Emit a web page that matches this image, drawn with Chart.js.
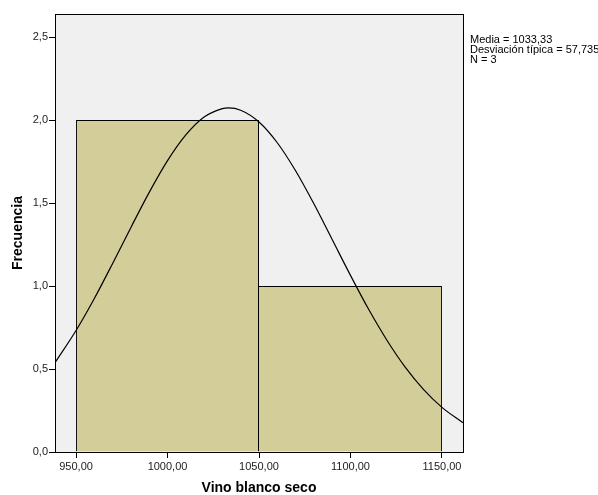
<!DOCTYPE html>
<html>
<head>
<meta charset="utf-8">
<script src="https://cdn.jsdelivr.net/npm/chart.js@4/dist/chart.umd.min.js"></script>
<style>
  html, body { margin: 0; padding: 0; background: #ffffff; }
  #wrap { width: 598px; height: 495px; position: relative; }
</style>
</head>
<body>
<div id="wrap"><canvas id="c" width="598" height="495"></canvas></div>
<script>
// Histogram bins (centre of each bin) and their counts
const binCenters = [1000, 1100];
const binCounts = [2, 1];

// Fitted normal curve, sampled along the axis
const curveX = [938.5, 950, 960, 970, 980, 990, 1000, 1010, 1020, 1030, 1033.33, 1040, 1050, 1060, 1070, 1080, 1090, 1100, 1110, 1120, 1130, 1140, 1150, 1161.5];
const curveY = [0.538, 0.732, 0.925, 1.136, 1.353, 1.564, 1.755, 1.910, 2.018, 2.069, 2.073, 2.059, 1.988, 1.863, 1.694, 1.495, 1.280, 1.064, 0.858, 0.672, 0.510, 0.376, 0.269, 0.176];

// Axis ticks
const xTicks = [950, 1000, 1050, 1100, 1150];
const yTicks = [0, 0.5, 1.0, 1.5, 2.0, 2.5];

// Summary statistics shown beside the plot
const statsLines = ['Media = 1033,33', 'Desviación típica = 57,735', 'N = 3'];

const FONT = '"Liberation Sans", Arial, sans-serif';

const frame = {
  id: 'frame',
  beforeDraw(chart) {
    const { ctx, chartArea: a } = chart;
    ctx.save();
    ctx.fillStyle = '#f0f0f0';
    ctx.fillRect(a.left, a.top, a.right - a.left, a.bottom - a.top);
    ctx.restore();
  },
  afterDraw(chart) {
    const { ctx, chartArea: a } = chart;
    ctx.save();
    ctx.strokeStyle = '#000';
    ctx.lineWidth = 1;
    ctx.strokeRect(Math.round(a.left) + 0.5, Math.round(a.top) + 0.5,
                   Math.round(a.right - a.left), Math.round(a.bottom - a.top));
    ctx.fillStyle = '#000';
    ctx.font = '11px ' + FONT;
    ctx.textBaseline = 'top';
    ctx.textAlign = 'left';
    statsLines.forEach((t, i) => ctx.fillText(t, a.right + 7, 34 + i * 10));
    ctx.restore();
  }
};

const fmt = v => v.toFixed(2).replace('.', ',');

new Chart(document.getElementById('c'), {
  type: 'bar',
  data: {
    datasets: [
      {
        type: 'line',
        data: curveX.map((x, i) => ({ x: x, y: curveY[i] })),
        borderColor: '#000',
        borderWidth: 1.2,
        pointRadius: 0,
        cubicInterpolationMode: 'monotone',
        fill: false,
        order: 0
      },
      {
        type: 'bar',
        data: binCenters.map((x, i) => ({ x: x, y: binCounts[i] })),
        backgroundColor: '#d3ce99',
        borderColor: '#000',
        // adjacent bins share one edge line
        borderWidth: c => ({ top: 1, right: 1, bottom: 0, left: c.dataIndex === 0 ? 1 : 0 }),
        borderSkipped: false,
        // the bar ruler uses the 50-unit tick spacing; each bin spans two of those
        barPercentage: 2,
        categoryPercentage: 1,
        order: 1
      }
    ]
  },
  options: {
    responsive: false,
    animation: false,
    layout: { padding: { left: 0, top: 14, right: 135, bottom: 0 } },
    plugins: { legend: { display: false }, tooltip: { enabled: false } },
    scales: {
      x: {
        type: 'linear',
        min: 938.5,
        max: 1161.5,
        offset: false,
        afterBuildTicks(s) { s.ticks = xTicks.map(v => ({ value: v })); },
        afterFit(s) { s.height = 43; },
        grid: { offset: false, drawOnChartArea: false, tickLength: 6, color: '#000', tickColor: '#000' },
        border: { display: true, color: '#000' },
        ticks: {
          maxRotation: 0,
          autoSkip: false,
          padding: 2,
          color: '#222',
          font: { family: FONT, size: 11 },
          callback: v => fmt(v)
        },
        title: {
          display: true,
          text: 'Vino blanco seco',
          color: '#000',
          font: { family: FONT, size: 14, weight: 'bold', lineHeight: 1.0 },
          padding: { top: 11, bottom: 0 }
        }
      },
      y: {
        min: 0,
        max: 2.6386,
        afterBuildTicks(s) { s.ticks = yTicks.map(v => ({ value: v })); },
        afterFit(s) { s.width = 55; },
        grid: { drawOnChartArea: false, tickLength: 6, color: '#000', tickColor: '#000' },
        border: { display: true, color: '#000' },
        ticks: {
          padding: 1,
          color: '#222',
          font: { family: FONT, size: 11 },
          callback: v => v.toFixed(1).replace('.', ',')
        },
        title: {
          display: true,
          text: 'Frecuencia',
          color: '#000',
          font: { family: FONT, size: 14, weight: 'bold' },
          padding: { top: 10, bottom: 4 }
        }
      }
    }
  },
  plugins: [frame]
});
</script>
</body>
</html>
